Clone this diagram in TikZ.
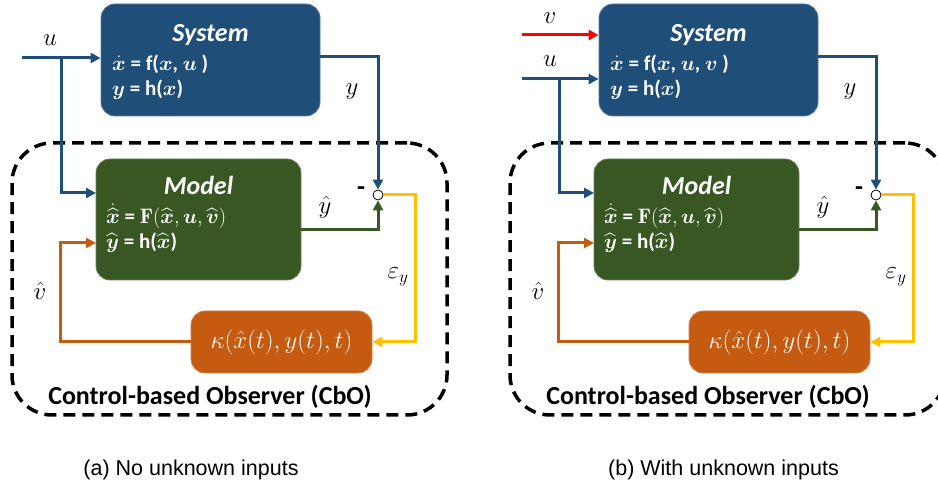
\documentclass[tikz,border=0pt]{standalone}
\usepackage{amsmath, amssymb}
\usepackage{fontspec}
\setsansfont{Carlito}
\newfontfamily\capfont{Liberation Sans}
\usepackage{xcolor}
\usetikzlibrary{arrows.meta, positioning, calc}

\definecolor{sysblue}{HTML}{1F4E79}
\definecolor{modgreen}{HTML}{385723}
\definecolor{kaporange}{HTML}{C55A11}
\definecolor{erryellow}{HTML}{FFC000}

\tikzset{
  block/.style={draw=#1!75!white, fill=#1, line width=0.8pt, rounded corners=14pt, text=white},
  boxtitle/.style={text=white, inner sep=0pt, font=\sffamily\bfseries\itshape\fontsize{26}{28}\selectfont},
  boxeq/.style={anchor=west, text=white, inner sep=0pt, font=\sffamily\bfseries\fontsize{21}{23}\selectfont},
  sig/.style={draw=#1, line width=3pt, -{Triangle[length=10pt,width=10pt]}},
  lab/.style={inner sep=0pt, font=\fontsize{26}{28}\selectfont},
  sumpt/.style={circle, draw, fill=white, line width=0.8pt, minimum size=10pt, inner sep=0pt},
  cbo/.style={draw, line width=3.5pt, dash pattern=on 12pt off 7pt, rounded corners=40pt},
  cboname/.style={inner sep=0pt, font=\sffamily\bfseries\fontsize{26}{28}\selectfont},
  caption/.style={inner sep=0pt, font=\capfont\fontsize{21.5}{24}\selectfont}
}

\begin{document}
\begin{tikzpicture}[x=1pt,y=-1pt]
  \useasboundingbox (0,0) rectangle (938,494);

  % (a) no unknown inputs
  \begin{scope}
    \node[cbo, minimum width=435pt, minimum height=272pt] (cboA) at (229.5,279) {};
    \node[cboname] (cboAname) at (210,397) {Control-based Observer (CbO)};

    \node[block=sysblue, minimum width=219pt, minimum height=112pt] (sysA) at (210.5,60) {};
    \node[boxtitle] (sysAname) at (210.5,35) {System};
    \node[boxeq] (sysAeq1) at (112,64) {$\dot{\boldsymbol{x}}$ = f($\boldsymbol{x}$, $\boldsymbol{u}$ )};
    \node[boxeq] (sysAeq2) at (112,90) {$\boldsymbol{y}$ = h($\boldsymbol{x}$)};

    \node[block=modgreen, minimum width=205pt, minimum height=121pt] (modA) at (198.5,219.5) {};
    \node[boxtitle] (modAname) at (198.5,185) {Model};
    \node[boxeq] (modAeq1) at (106,216) {$\dot{\widehat{\boldsymbol{x}}}$ = $\mathbf{F}(\widehat{\boldsymbol{x}}, \boldsymbol{u}, \widehat{\boldsymbol{v}})$};
    \node[boxeq] (modAeq2) at (106,243) {$\widehat{\boldsymbol{y}}$ = h($\widehat{\boldsymbol{x}}$)};

    \node[block=kaporange, minimum width=181pt, minimum height=62pt, font=\fontsize{27}{29}\selectfont] (kapA) at (281.5,342) {$\kappa(\hat{x}(t),y(t),t)$};
    \node[sumpt] (sumA) at (378,195) {};

    \coordinate (uA) at (22,58);
    \coordinate (ubrA) at (61,58);
    \coordinate (uModA) at (96,193);
    \coordinate (youtA) at (320,57);
    \coordinate (yhatA) at (301,230);
    \coordinate (errA) at (415,195);
    \coordinate (vbendA) at (60,243);
    \coordinate (vinA) at (96,243);

    % Signals
    \draw[sig=sysblue] (uA) -- (sysA.west |- uA);
    \draw[sig=sysblue] (ubrA) |- (uModA);
    \draw[sig=sysblue] (youtA) -| (sumA.north);
    \draw[sig=modgreen] (yhatA) -| (sumA.south);
    \draw[sig=erryellow] (sumA.east) -- (errA) |- (kapA.east);
    \draw[sig=kaporange] (kapA.west) -| (vbendA) -- (vinA);

    % Labels
    \node[lab] (uAlab) at (50,40) {$u$};
    \node[lab] (yAlab) at (352,92) {$y$};
    \node[lab] (yhatAlab) at (325,207) {$\hat{y}$};
    \node[cboname] (minusA) at (361,191) {-};
    \node[lab] (errAlab) at (398,277) {$\varepsilon_y$};
    \node[lab] (vhatAlab) at (40,291) {$\hat{v}$};
  \end{scope}

  % (b) with unknown inputs
  \begin{scope}[xshift=498pt]
    \node[cbo, minimum width=435pt, minimum height=272pt] (cboB) at (229.5,279) {};
    \node[cboname] (cboBname) at (210,397) {Control-based Observer (CbO)};

    \node[block=sysblue, minimum width=219pt, minimum height=112pt] (sysB) at (210.5,60) {};
    \node[boxtitle] (sysBname) at (210.5,35) {System};
    \node[boxeq] (sysBeq1) at (112,64) {$\dot{\boldsymbol{x}}$ = f($\boldsymbol{x}$, $\boldsymbol{u}$, $\boldsymbol{v}$ )};
    \node[boxeq] (sysBeq2) at (112,90) {$\boldsymbol{y}$ = h($\boldsymbol{x}$)};

    \node[block=modgreen, minimum width=205pt, minimum height=121pt] (modB) at (198.5,219.5) {};
    \node[boxtitle] (modBname) at (198.5,185) {Model};
    \node[boxeq] (modBeq1) at (106,216) {$\dot{\widehat{\boldsymbol{x}}}$ = $\mathbf{F}(\widehat{\boldsymbol{x}}, \boldsymbol{u}, \widehat{\boldsymbol{v}})$};
    \node[boxeq] (modBeq2) at (106,243) {$\widehat{\boldsymbol{y}}$ = h($\widehat{\boldsymbol{x}}$)};

    \node[block=kaporange, minimum width=181pt, minimum height=62pt, font=\fontsize{27}{29}\selectfont] (kapB) at (281.5,342) {$\kappa(\hat{x}(t),y(t),t)$};
    \node[sumpt] (sumB) at (378,195) {};

    \coordinate (vB) at (24,35);
    \coordinate (uB) at (24,79);
    \coordinate (ubrB) at (61,79);
    \coordinate (uModB) at (96,193);
    \coordinate (youtB) at (320,57);
    \coordinate (yhatB) at (301,230);
    \coordinate (errB) at (415,195);
    \coordinate (vbendB) at (60,243);
    \coordinate (vinB) at (96,243);

    % Signals
    \draw[sig=red] (vB) -- (sysB.west |- vB);
    \draw[sig=sysblue] (uB) -- (sysB.west |- uB);
    \draw[sig=sysblue] (ubrB) |- (uModB);
    \draw[sig=sysblue] (youtB) -| (sumB.north);
    \draw[sig=modgreen] (yhatB) -| (sumB.south);
    \draw[sig=erryellow] (sumB.east) -- (errB) |- (kapB.east);
    \draw[sig=kaporange] (kapB.west) -| (vbendB) -- (vinB);

    % Labels
    \node[lab] (vBlab) at (52,18) {$v$};
    \node[lab] (uBlab) at (52,61) {$u$};
    \node[lab] (yBlab) at (352,92) {$y$};
    \node[lab] (yhatBlab) at (325,207) {$\hat{y}$};
    \node[cboname] (minusB) at (361,191) {-};
    \node[lab] (errBlab) at (398,277) {$\varepsilon_y$};
    \node[lab] (vhatBlab) at (40,291) {$\hat{v}$};
  \end{scope}

  % Captions
  \node[caption] (capA) at (191,470) {(a) No unknown inputs};
  \node[caption] (capB) at (723.5,470) {(b) With unknown inputs};
\end{tikzpicture}
\end{document}
